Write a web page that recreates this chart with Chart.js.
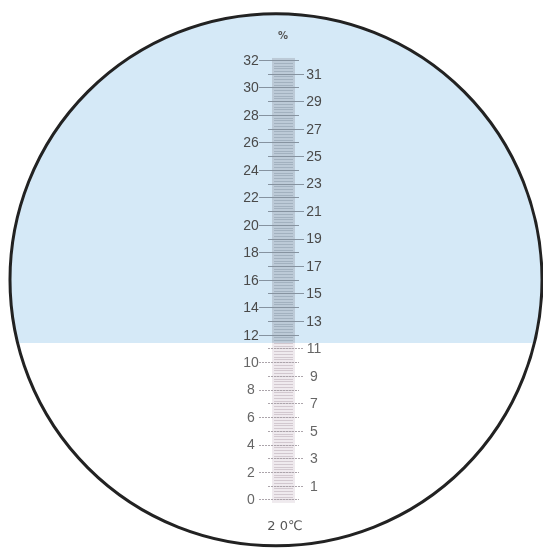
<!DOCTYPE html>
<html>
<head>
<meta charset="utf-8">
<script src="https://cdn.jsdelivr.net/npm/chart.js@4.4.1/dist/chart.umd.min.js"></script>
<style>
  html, body { margin: 0; padding: 0; background: #fff; overflow: hidden; }
</style>
</head>
<body>
<canvas id="scaleChart" width="543" height="550"></canvas>
<script>
// scale readings (% Brix)
const evenMarks = [0, 2, 4, 6, 8, 10, 12, 14, 16, 18, 20, 22, 24, 26, 28, 30, 32];
const oddMarks = [1, 3, 5, 7, 9, 11, 13, 15, 17, 19, 21, 23, 25, 27, 29, 31];
const minorStep = 0.2;
const scaleMin = 0;
const scaleMax = 32;
const shadowLine = 11.4;   // where the blue field meets the light field
const unitLabel = '%';
const tempLabel = '2 0℃';

// layout (x in pixels, y in scale units)
const xRange = [0, 543];
const yRange = [-3.68, 36.37];
const fieldCenter = { x: 276, y: 16 };
const fieldRadius = 19.37;
const bar = { left: 272, right: 295, top: 32.15, bottom: -0.25 };
const leftTick = [259, 299];
const rightTick = [268, 304];
const leftLabelX = 251;
const rightLabelX = 314;

const fieldBlue = '#d5e9f7';

function circlePath(ctx, chart) {
    const xs = chart.scales.x, ys = chart.scales.y;
    const cx = xs.getPixelForValue(fieldCenter.x);
    const cy = ys.getPixelForValue(fieldCenter.y);
    const r = ys.getPixelForValue(fieldCenter.y) - ys.getPixelForValue(fieldCenter.y + fieldRadius);
    ctx.beginPath();
    ctx.arc(cx, cy, r, 0, Math.PI * 2);
}

const refractometer = {
    id: 'refractometer',
    beforeDatasetsDraw(chart) {
        const ctx = chart.ctx;
        ctx.save();
        circlePath(ctx, chart);
        ctx.clip();
    },
    afterDatasetsDraw(chart) {
        const ctx = chart.ctx;
        ctx.restore();
        const xs = chart.scales.x, ys = chart.scales.y;
        const px = v => xs.getPixelForValue(v);
        const py = v => ys.getPixelForValue(v);

        // scale strip
        ctx.fillStyle = '#bccad7';
        ctx.fillRect(px(bar.left), py(bar.top), px(bar.right) - px(bar.left), py(shadowLine) - py(bar.top));
        ctx.fillStyle = '#efeaee';
        ctx.fillRect(px(bar.left), py(shadowLine), px(bar.right) - px(bar.left), py(bar.bottom) - py(shadowLine));

        // fine graduations
        ctx.lineWidth = 1;
        for (let i = 0; i <= (scaleMax - scaleMin) / minorStep; i++) {
            const v = scaleMin + i * minorStep;
            const y = Math.round(py(v)) + 0.5;
            const upper = v > shadowLine;
            ctx.strokeStyle = upper ? '#a2b1bf' : '#d2c8cf';
            ctx.beginPath();
            ctx.moveTo(px(bar.left) + 2, y);
            ctx.lineTo(px(bar.right) - 2, y);
            ctx.stroke();
        }

        // major ticks
        const drawTick = (v, from, to) => {
            const y = Math.round(py(v)) + 0.5;
            const upper = v > shadowLine;
            ctx.strokeStyle = upper ? '#8693a0' : '#aca5ab';
            ctx.setLineDash(upper ? [] : [2, 1]);
            ctx.beginPath();
            ctx.moveTo(px(from), y);
            ctx.lineTo(px(to), y);
            ctx.stroke();
        };
        evenMarks.forEach(v => drawTick(v, leftTick[0], leftTick[1]));
        oddMarks.forEach(v => drawTick(v, rightTick[0], rightTick[1]));
        ctx.setLineDash([]);

        // labels
        ctx.font = '14px "Liberation Sans", Arial, sans-serif';
        ctx.textAlign = 'center';
        ctx.textBaseline = 'middle';
        evenMarks.forEach(v => {
            ctx.fillStyle = v > shadowLine ? '#4a4a4a' : '#666';
            ctx.fillText(String(v), px(leftLabelX), py(v) + 1);
        });
        oddMarks.forEach(v => {
            ctx.fillStyle = v > shadowLine ? '#4a4a4a' : '#666';
            ctx.fillText(String(v), px(rightLabelX), py(v) + 1);
        });

        ctx.fillStyle = '#555';
        ctx.font = 'bold 10px "DejaVu Sans", sans-serif';
        ctx.fillText(unitLabel, px(283), py(scaleMax + 1.7));
        ctx.font = '13px "DejaVu Sans", sans-serif';
        ctx.fillText(tempLabel, px(285), py(scaleMin - 2));

        // outline of the field of view
        ctx.strokeStyle = '#222';
        ctx.lineWidth = 3;
        circlePath(ctx, chart);
        ctx.stroke();
    }
};

const ctx = document.getElementById('scaleChart').getContext('2d');
const chart = new Chart(ctx, {
    type: 'scatter',
    data: {
        datasets: [{
            label: 'shadow field',
            data: [{ x: xRange[0], y: shadowLine }, { x: xRange[1], y: shadowLine }],
            showLine: true,
            fill: 'end',
            backgroundColor: fieldBlue,
            borderWidth: 0,
            pointRadius: 0
        }]
    },
    options: {
        responsive: false,
        animation: false,
        layout: { padding: 0 },
        plugins: {
            legend: { display: false },
            tooltip: { enabled: false }
        },
        scales: {
            x: { type: 'linear', min: xRange[0], max: xRange[1], display: false },
            y: { type: 'linear', min: yRange[0], max: yRange[1], display: false }
        }
    },
    plugins: [refractometer]
});
</script>
</body>
</html>
